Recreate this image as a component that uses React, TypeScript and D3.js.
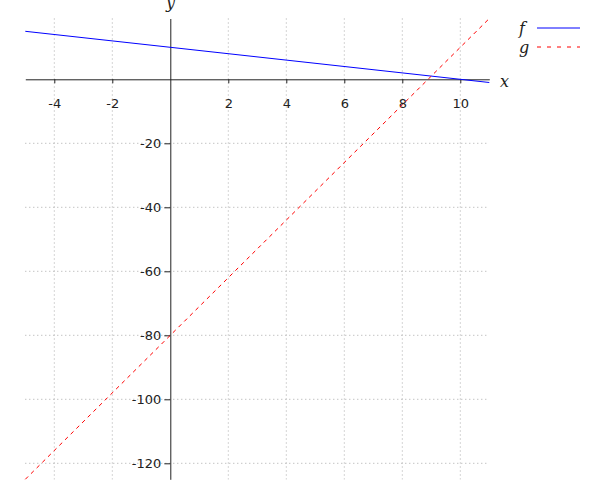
import { useRef, useEffect } from 'react'
import * as d3 from 'd3'

const W = 600
const H = 500

const F_X = [-5, 11]
const F_Y = [15, -1]
const G_X = [-5, 11]
const G_Y = [-125, 19]

const X_TICKS = [-4, -2, 2, 4, 6, 8, 10]
const Y_TICKS = [-20, -40, -60, -80, -100, -120]

const X_DOMAIN: [number, number] = [-5, 11]
const Y_DOMAIN: [number, number] = [-125, 19]

const AXIS_COLOR = '#222'
const GRID_COLOR = '#aaa'
const TICK_FONT = "'DejaVu Sans', sans-serif"
const LABEL_FONT = "'DejaVu Serif', serif"

export default function App() {
  const svgRef = useRef<SVGSVGElement>(null)

  useEffect(() => {
    const svg = d3.select(svgRef.current)
    svg.selectAll('*').remove()

    const x = d3.scaleLinear().domain(X_DOMAIN).range([25.3, 489.3])
    const y = d3.scaleLinear().domain(Y_DOMAIN).range([479.3, 18.5])

    const [x0, x1] = x.range()
    const [y0, y1] = y.range()

    // grid
    const grid = svg.append('g')
    grid.selectAll('line.vx')
      .data(X_TICKS)
      .join('line')
      .attr('class', 'vx')
      .attr('x1', (d) => x(d)).attr('x2', (d) => x(d))
      .attr('y1', y1).attr('y2', y0)
      .attr('stroke', GRID_COLOR).attr('stroke-width', 1)
      .attr('stroke-dasharray', '1,3')
    grid.selectAll('line.hy')
      .data(Y_TICKS)
      .join('line')
      .attr('class', 'hy')
      .attr('y1', (d) => y(d)).attr('y2', (d) => y(d))
      .attr('x1', x0).attr('x2', x1)
      .attr('stroke', GRID_COLOR).attr('stroke-width', 1)
      .attr('stroke-dasharray', '1,3')

    const fmt = (d: d3.NumberValue) => String(d)

    // axes
    const xAxis = svg.append('g').attr('transform', `translate(0,${y(0)})`)
      .call(d3.axisBottom(x).tickValues(X_TICKS).tickFormat(fmt).tickSize(4).tickPadding(15).tickSizeOuter(0))
      .attr('font-size', 13).attr('font-family', TICK_FONT)
    xAxis.select('.domain').attr('stroke', AXIS_COLOR)
    xAxis.selectAll('.tick line').attr('stroke', AXIS_COLOR)
    xAxis.selectAll('.tick text').attr('fill', AXIS_COLOR).style('font-size', '13px')

    const yAxis = svg.append('g').attr('transform', `translate(${x(0)},0)`)
      .call(d3.axisLeft(y).tickValues(Y_TICKS).tickFormat(fmt).tickSize(6).tickPadding(3).tickSizeOuter(0))
      .attr('font-size', 13).attr('font-family', TICK_FONT)
    yAxis.select('.domain').attr('stroke', AXIS_COLOR)
    yAxis.selectAll('.tick line').attr('stroke', AXIS_COLOR)
    yAxis.selectAll('.tick text').attr('fill', AXIS_COLOR).style('font-size', '13px')

    // lines
    const line = d3.line<[number, number]>().x((d) => x(d[0])).y((d) => y(d[1]))
    svg.append('path')
      .datum(F_X.map((v, i) => [v, F_Y[i]] as [number, number]))
      .attr('d', line)
      .attr('fill', 'none').attr('stroke', '#0000ff').attr('stroke-width', 1)
    svg.append('path')
      .datum(G_X.map((v, i) => [v, G_Y[i]] as [number, number]))
      .attr('d', line)
      .attr('fill', 'none').attr('stroke', '#ff0000').attr('stroke-width', 1)
      .attr('stroke-dasharray', '4,4')

    // axis labels
    svg.append('text').attr('x', 500).attr('y', 87).text('x')
      .attr('font-family', LABEL_FONT).attr('font-style', 'italic').attr('font-size', '16px').attr('fill', AXIS_COLOR)
    svg.append('text').attr('x', 166).attr('y', 8).text('y')
      .attr('font-family', LABEL_FONT).attr('font-style', 'italic').attr('font-size', '16px').attr('fill', AXIS_COLOR)

    // legend
    const legend = svg.append('g')
    const items = [
      { name: 'f', color: '#0000ff', dash: null as string | null, yy: 28 },
      { name: 'g', color: '#ff0000', dash: '4,6', yy: 47 },
    ]
    items.forEach((it) => {
      legend.append('text').attr('x', 519).attr('y', it.yy + 6).text(it.name)
        .attr('font-family', LABEL_FONT).attr('font-style', 'italic').attr('font-size', '16px').attr('fill', AXIS_COLOR)
      legend.append('line').attr('x1', 537).attr('x2', 580).attr('y1', it.yy).attr('y2', it.yy)
        .attr('stroke', it.color).attr('stroke-width', 1)
        .attr('stroke-dasharray', it.dash)
    })
  }, [])

  return (
    <svg
      ref={svgRef}
      width={W}
      height={H}
      style={{ position: 'absolute', left: 0, top: 0, background: '#fff' }}
    />
  )
}
